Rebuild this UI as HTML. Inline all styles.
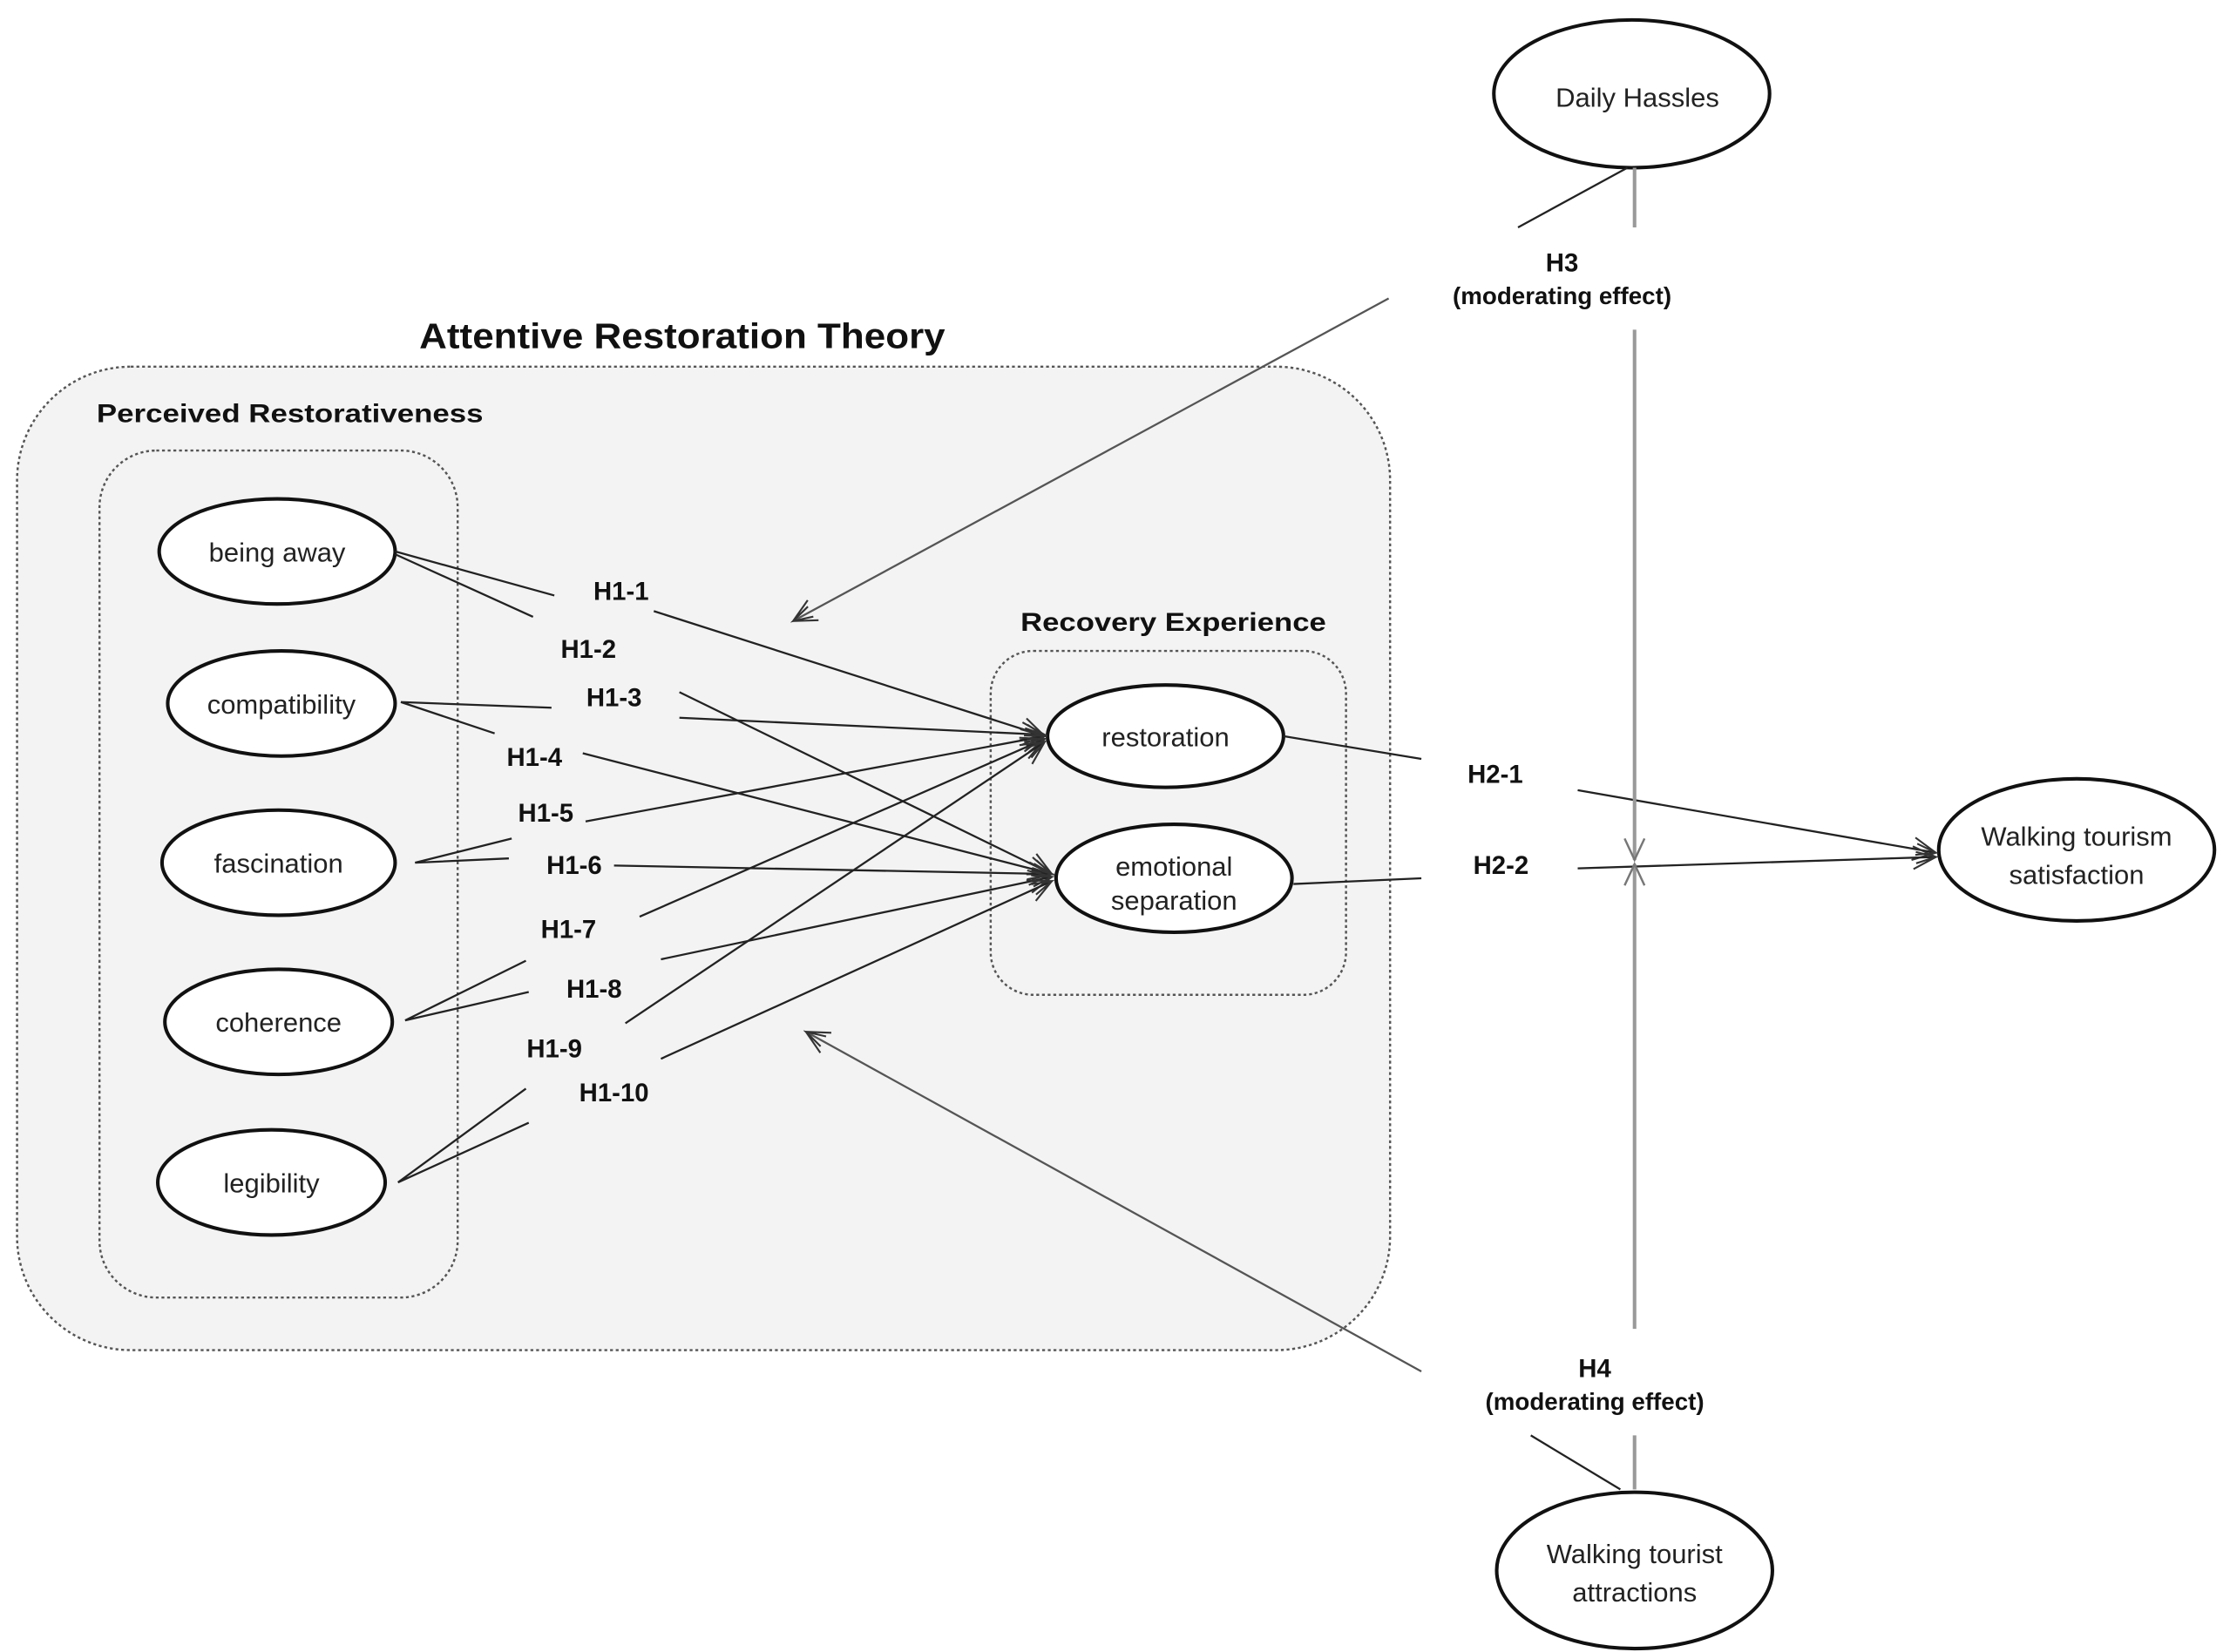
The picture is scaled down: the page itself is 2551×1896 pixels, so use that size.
<!DOCTYPE html>
<html><head><style>html,body{margin:0;padding:0;background:#fff}svg{display:block}</style></head><body>
<svg width="2551" height="1896" viewBox="0 0 1564 1162.4" xmlns="http://www.w3.org/2000/svg" font-family="Liberation Sans, sans-serif">
<defs>
<marker id="a" markerWidth="20" markerHeight="20" refX="18" refY="10" orient="auto" markerUnits="userSpaceOnUse">
<path d="M2,2 L18,10 L2,18 M4,6 L18,10 L4,14" fill="none" stroke="#333" stroke-width="1.3"/></marker>
<marker id="g" markerWidth="20" markerHeight="20" refX="18" refY="10" orient="auto" markerUnits="userSpaceOnUse">
<path d="M3,3 L18,10 L3,17" fill="none" stroke="#777" stroke-width="1.5"/></marker>
</defs>
<rect x="12" y="258" width="966" height="692" rx="80" fill="#f3f3f3" stroke="#555" stroke-width="1.5" stroke-dasharray="2,2"/>
<rect x="70" y="317" width="252" height="596" rx="40" fill="none" stroke="#555" stroke-width="1.5" stroke-dasharray="2,2"/>
<rect x="697" y="458" width="250" height="242" rx="30" fill="none" stroke="#555" stroke-width="1.5" stroke-dasharray="2,2"/>
<g font-weight="bold" fill="#111">
<text x="295" y="245" font-size="25" textLength="370" lengthAdjust="spacingAndGlyphs">Attentive Restoration Theory</text>
<text x="68" y="297" font-size="18" textLength="272" lengthAdjust="spacingAndGlyphs">Perceived Restorativeness</text>
<text x="718" y="444" font-size="18" textLength="215" lengthAdjust="spacingAndGlyphs">Recovery Experience</text>
</g>
<g fill="#fff" stroke="#111" stroke-width="2.5">
<ellipse cx="195" cy="388" rx="83" ry="37"/>
<ellipse cx="198" cy="495" rx="80" ry="37"/>
<ellipse cx="196" cy="607" rx="82" ry="37"/>
<ellipse cx="196" cy="719" rx="80" ry="37"/>
<ellipse cx="191" cy="832" rx="80" ry="37"/>
<ellipse cx="820" cy="518" rx="83" ry="36"/>
<ellipse cx="826" cy="618" rx="83" ry="38"/>
<ellipse cx="1461" cy="598" rx="97" ry="50"/>
<ellipse cx="1148" cy="66" rx="97" ry="52"/>
<ellipse cx="1150" cy="1105" rx="97" ry="55"/>
</g>
<g font-size="19" fill="#222" text-anchor="middle">
<text x="195" y="395">being away</text>
<text x="198" y="502">compatibility</text>
<text x="196" y="614">fascination</text>
<text x="196" y="726">coherence</text>
<text x="191" y="839">legibility</text>
<text x="820" y="525">restoration</text>
<text x="826" y="616">emotional</text>
<text x="826" y="640">separation</text>
<text x="1461" y="595">Walking tourism</text>
<text x="1461" y="622">satisfaction</text>
<text x="1152" y="75">Daily Hassles</text>
<text x="1150" y="1100">Walking tourist</text>
<text x="1150" y="1127">attractions</text>
</g>
<g font-size="18" font-weight="bold" fill="#111" text-anchor="middle">
<text x="437" y="422">H1-1</text><text x="414" y="463">H1-2</text>
<text x="432" y="497">H1-3</text><text x="376" y="539">H1-4</text>
<text x="384" y="578">H1-5</text><text x="404" y="615">H1-6</text>
<text x="400" y="660">H1-7</text><text x="418" y="702">H1-8</text>
<text x="390" y="744">H1-9</text><text x="432" y="775">H1-10</text>
<text x="1052" y="551">H2-1</text><text x="1056" y="615">H2-2</text>
<text x="1099" y="191">H3</text><text x="1122" y="969">H4</text>
</g>
<g font-size="17" font-weight="bold" fill="#111" text-anchor="middle">
<text x="1099" y="214">(moderating effect)</text>
<text x="1122" y="992">(moderating effect)</text>
</g>
<g stroke="#222" stroke-width="1.4" fill="none">
<path d="M278,388 L390,419 M278,390 L375,434"/>
<path d="M282,494 L388,498 M282,494 L348,516"/>
<path d="M292,607 L360,590 M292,607 L358,604"/>
<path d="M285,718 L370,676 M285,718 L372,698"/>
<path d="M280,832 L370,766 M280,832 L372,790"/>
<line x1="460" y1="430" x2="735" y2="518" marker-end="url(#a)"/>
<line x1="478" y1="487" x2="740" y2="615" marker-end="url(#a)"/>
<line x1="478" y1="505" x2="735" y2="517" marker-end="url(#a)"/>
<line x1="410" y1="530" x2="740" y2="615" marker-end="url(#a)"/>
<line x1="412" y1="578" x2="735" y2="518" marker-end="url(#a)"/>
<line x1="432" y1="609" x2="740" y2="615" marker-end="url(#a)"/>
<line x1="450" y1="645" x2="735" y2="520" marker-end="url(#a)"/>
<line x1="465" y1="675" x2="740" y2="617" marker-end="url(#a)"/>
<line x1="440" y1="720" x2="735" y2="522" marker-end="url(#a)"/>
<line x1="465" y1="745" x2="740" y2="620" marker-end="url(#a)"/>
<line x1="903" y1="518" x2="1000" y2="534"/>
<line x1="910" y1="622" x2="1000" y2="618"/>
<line x1="1110" y1="556" x2="1362" y2="600" marker-end="url(#a)"/>
<line x1="1110" y1="611" x2="1362" y2="603" marker-end="url(#a)"/>
<line x1="1145" y1="118" x2="1068" y2="160"/>
<line x1="1140" y1="1048" x2="1077" y2="1010"/>
</g>
<g stroke="#555" stroke-width="1.4" fill="none">
<line x1="977" y1="210" x2="558" y2="437" marker-end="url(#a)"/>
<line x1="1000" y1="965" x2="567" y2="726" marker-end="url(#a)"/>
</g>
<g stroke="#999" stroke-width="2.5" fill="none">
<line x1="1150" y1="118" x2="1150" y2="160"/>
<line x1="1150" y1="232" x2="1150" y2="605" marker-end="url(#g)"/>
<line x1="1150" y1="1048" x2="1150" y2="1010"/>
<line x1="1150" y1="935" x2="1150" y2="608" marker-end="url(#g)"/>
</g>
</svg>
</body></html>
